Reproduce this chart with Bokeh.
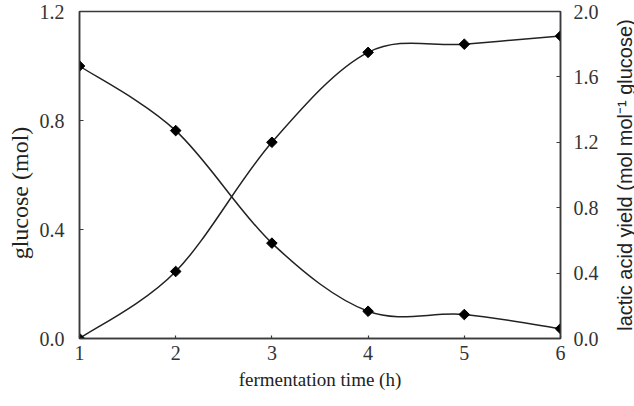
import numpy as np
from bokeh.plotting import figure
from bokeh.layouts import row
from bokeh.models import Range1d, LinearAxis, FixedTicker, PrintfTickFormatter, ColumnDataSource
from bokeh.embed import file_html
from bokeh.resources import INLINE

# ---- data ----
time_h = [1, 2, 3, 4, 5, 6]
glucose_mol = [1.00, 0.763, 0.35, 0.10, 0.088, 0.036]
lactic_yield = [0.0, 0.41, 1.20, 1.75, 1.80, 1.85]
x_ticks = [1, 2, 3, 4, 5, 6]
left_ticks = [0.0, 0.4, 0.8, 1.2]
right_ticks = [0.0, 0.4, 0.8, 1.2, 1.6, 2.0]
x_title = "fermentation time (h)"
left_title = "glucose (mol)"
right_title = "lactic acid yield (mol mol\u207b\u00b9 glucose)"

SERIF = "Liberation Serif"
SANS = "Liberation Sans"
INK = "#222222"
FRAME = "#3a3a3a"


def bezier_segments(xs, ys):
    """Catmull-Rom smoothing expressed as cubic Bezier segments (Excel-style smoothed line)."""
    xs = np.asarray(xs, float)
    ys = np.asarray(ys, float)
    n = len(xs)
    px = np.concatenate([[xs[0]], xs, [xs[-1]]])
    py = np.concatenate([[ys[0]], ys, [ys[-1]]])
    d = dict(x0=[], y0=[], x1=[], y1=[], cx0=[], cy0=[], cx1=[], cy1=[])
    for i in range(n - 1):
        p0x, p0y = px[i], py[i]
        p1x, p1y = px[i + 1], py[i + 1]
        p2x, p2y = px[i + 2], py[i + 2]
        p3x, p3y = px[i + 3], py[i + 3]
        d["x0"].append(p1x); d["y0"].append(p1y)
        d["x1"].append(p2x); d["y1"].append(p2y)
        d["cx0"].append(p1x + (p2x - p0x) / 6.0); d["cy0"].append(p1y + (p2y - p0y) / 6.0)
        d["cx1"].append(p2x - (p3x - p1x) / 6.0); d["cy1"].append(p2y - (p3y - p1y) / 6.0)
    return ColumnDataSource(d)


y2_range = Range1d(0, 2.0)

p = figure(width=608, height=406, output_backend="svg", toolbar_location=None,
           x_range=Range1d(1, 6), y_range=Range1d(0, 1.2),
           min_border_left=79, min_border_right=48, min_border_top=11, min_border_bottom=68)
p.extra_y_ranges = {"yield": y2_range}

p.xgrid.visible = False
p.ygrid.visible = False
p.outline_line_color = FRAME
p.outline_line_width = 1.5
p.background_fill_color = "white"
p.border_fill_color = "white"

# curves
p.bezier(x0="x0", y0="y0", x1="x1", y1="y1", cx0="cx0", cy0="cy0", cx1="cx1", cy1="cy1",
         source=bezier_segments(time_h, glucose_mol), line_color=INK, line_width=1.5)
p.bezier(x0="x0", y0="y0", x1="x1", y1="y1", cx0="cx0", cy0="cy0", cx1="cx1", cy1="cy1",
         source=bezier_segments(time_h, lactic_yield), line_color=INK, line_width=1.5,
         y_range_name="yield")

# markers
p.scatter(time_h, glucose_mol, marker="square", angle=np.pi / 4, size=7.5,
          fill_color="black", line_color="black")
p.scatter(time_h, lactic_yield, marker="square", angle=np.pi / 4, size=7.5,
          fill_color="black", line_color="black", y_range_name="yield")

# axes
def style(ax, label_font, label_size):
    ax.axis_line_color = FRAME
    ax.axis_line_width = 1.5
    ax.major_tick_line_color = FRAME
    ax.major_tick_line_width = 1.2
    ax.major_tick_in = 4
    ax.major_tick_out = 0
    ax.minor_tick_line_color = None
    ax.major_label_text_font = SERIF
    ax.major_label_text_font_size = "20px"
    ax.major_label_text_color = "#333333"
    ax.axis_label_text_font = label_font
    ax.axis_label_text_font_size = label_size
    ax.axis_label_text_font_style = "normal"
    ax.axis_label_text_color = "#222222"

xa = p.xaxis[0]
style(xa, SERIF, "19px")
xa.ticker = FixedTicker(ticks=x_ticks)
xa.axis_label = x_title
xa.major_label_standoff = 7
xa.axis_label_standoff = 6
xa.major_tick_in = 3

ya = p.yaxis[0]
style(ya, SERIF, "24px")
ya.ticker = FixedTicker(ticks=left_ticks)
ya.formatter = PrintfTickFormatter(format="%.1f")
ya.axis_label = left_title + "\u00a0" * 6
ya.major_label_standoff = 15
ya.axis_label_standoff = 4

ra = LinearAxis(y_range_name="yield")
style(ra, SANS, "19px")
ra.ticker = FixedTicker(ticks=right_ticks)
ra.formatter = PrintfTickFormatter(format="%.1f")
ra.major_label_standoff = 13
p.add_layout(ra, "right")

# narrow strip to the right carrying the right-axis title (reads bottom-to-top)
t = figure(width=26, height=406, output_backend="svg", toolbar_location=None,
           x_range=Range1d(0, 1), y_range=p.extra_y_ranges["yield"],
           x_axis_type=None, y_axis_type=None,
           min_border_left=0, min_border_right=0, min_border_top=11, min_border_bottom=68)
t.outline_line_color = None
t.xgrid.visible = False
t.ygrid.visible = False
t.border_fill_color = "white"
t.background_fill_color = "white"
t.text(x=[0.65], y=[(right_ticks[0] + right_ticks[-1]) / 2], text=[right_title],
       angle=np.pi / 2, text_align="center", text_baseline="middle",
       text_font={"value": SANS}, text_font_size="20px", text_color="#222222")

layout = row(p, t, spacing=0)
open("out.html", "w").write(file_html(layout, INLINE))
